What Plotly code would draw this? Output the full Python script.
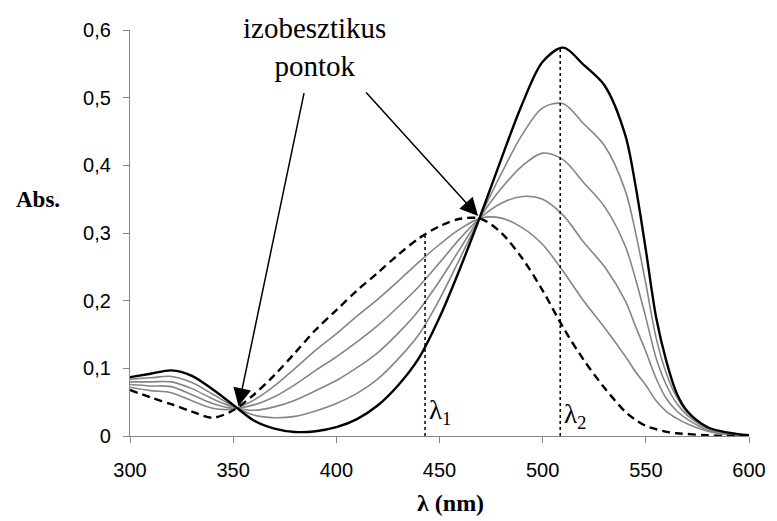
import plotly.graph_objects as go

# wavelengths (nm)
wl = [300, 310, 320, 330, 340, 350, 360, 370, 380, 390, 400, 410, 420, 430, 440, 450,
      460, 470, 480, 490, 500, 510, 520, 530, 540, 545, 550, 555, 560, 565, 570, 580, 590, 600]

# final spectrum (solid black)
abs_final = [0.087, 0.092, 0.097, 0.089, 0.069, 0.046, 0.023, 0.011, 0.006, 0.007, 0.013, 0.025,
             0.045, 0.075, 0.115, 0.175, 0.248, 0.327, 0.410, 0.490, 0.553, 0.574, 0.548, 0.518,
             0.445, 0.370, 0.275, 0.175, 0.110, 0.063, 0.037, 0.013, 0.005, 0.001]

# initial spectrum (dashed black)
abs_initial = [0.068, 0.057, 0.047, 0.036, 0.027, 0.038, 0.061, 0.090, 0.123, 0.157, 0.186, 0.215,
               0.241, 0.268, 0.292, 0.310, 0.321, 0.321, 0.300, 0.263, 0.215, 0.160, 0.112, 0.071,
               0.036, 0.024, 0.015, 0.010, 0.006, 0.004, 0.003, 0.001, 0.000, 0.000]

# intermediate spectra (grey), from nearest-to-final to nearest-to-initial
abs_g1 = [0.084, 0.086, 0.088, 0.079, 0.062, 0.044, 0.031, 0.027, 0.029, 0.037, 0.048, 0.063,
          0.084, 0.114, 0.150, 0.202, 0.263, 0.326, 0.388, 0.445, 0.485, 0.491, 0.461, 0.429,
          0.363, 0.301, 0.225, 0.145, 0.092, 0.057, 0.035, 0.012, 0.004, 0.001]
abs_g2 = [0.080, 0.080, 0.080, 0.070, 0.055, 0.043, 0.038, 0.043, 0.053, 0.067, 0.082, 0.101,
          0.123, 0.152, 0.186, 0.229, 0.277, 0.325, 0.366, 0.399, 0.418, 0.408, 0.374, 0.339,
          0.281, 0.232, 0.175, 0.115, 0.075, 0.048, 0.031, 0.011, 0.003, 0.001]
abs_g3 = [0.076, 0.074, 0.073, 0.061, 0.048, 0.041, 0.046, 0.058, 0.076, 0.097, 0.117, 0.139,
          0.163, 0.191, 0.221, 0.256, 0.292, 0.323, 0.344, 0.354, 0.350, 0.326, 0.286, 0.250,
          0.200, 0.162, 0.125, 0.085, 0.055, 0.037, 0.025, 0.009, 0.002, 0.000]
abs_g4 = [0.072, 0.067, 0.064, 0.052, 0.041, 0.040, 0.053, 0.074, 0.100, 0.127, 0.151, 0.177,
          0.202, 0.229, 0.257, 0.283, 0.306, 0.322, 0.322, 0.308, 0.283, 0.243, 0.199, 0.160,
          0.118, 0.095, 0.075, 0.052, 0.036, 0.026, 0.018, 0.007, 0.002, 0.000]

# marked wavelengths and heights of their dotted markers
lambda_x = [443, 508.5]
lambda_top = [0.297, 0.575]
lambda_labels = ["λ<sub>1</sub>", "λ<sub>2</sub>"]

x_ticks = [300, 350, 400, 450, 500, 550, 600]
y_ticks = [0, 0.1, 0.2, 0.3, 0.4, 0.5, 0.6]
y_tick_text = ["0", "0,1", "0,2", "0,3", "0,4", "0,5", "0,6"]

fig = go.Figure()
for g in [abs_g1, abs_g2, abs_g3, abs_g4]:
    fig.add_trace(go.Scatter(x=wl, y=g, mode="lines",
                             line=dict(color="#858585", width=1.6, shape="spline", smoothing=0.9)))
fig.add_trace(go.Scatter(x=wl, y=abs_initial, mode="lines",
                         line=dict(color="black", width=2.4, dash="8px,5px", shape="spline", smoothing=0.9)))
fig.add_trace(go.Scatter(x=wl, y=abs_final, mode="lines",
                         line=dict(color="black", width=2.4, shape="spline", smoothing=0.9)))
for lx, lt in zip(lambda_x, lambda_top):
    fig.add_trace(go.Scatter(x=[lx, lx], y=[0, lt], mode="lines",
                             line=dict(color="black", width=1.5, dash="dot")))

serif = "Liberation Serif"
# page offset (body margin) and figure geometry
OFF = 8
W, H = 769, 513
L, R, T, B = 122, 19.3, 11.3, 85.3
pw, ph = W - L - R, H - T - B


def px(x, y):
    return (x - OFF - L) / pw, (H - B - (y - OFF)) / ph


annotations = []
for text, (x, y), size in [("izobesztikus<br>pontok", (317, 37), 29),
                           ("<b>Abs.</b>", (37, 193), 23),
                           ("<b>λ (nm)</b>", (455, 504), 24)]:
    xp, yp = px(x, y)
    annotations.append(dict(text=text, x=xp, y=yp, xref="paper", yref="paper", showarrow=False,
                            xanchor="center", yanchor="middle", align="center",
                            font=dict(family=serif, size=size, color="black")))

# arrows pointing to the isosbestic points
arrows = [((352.6, 0.044), (384.5, 0.509)), ((468.7, 0.325), (413.8, 0.510))]
for (tx, ty), (sx, sy) in arrows:
    annotations.append(dict(x=tx, y=ty, ax=sx, ay=sy, xref="x", yref="y", axref="x", ayref="y",
                            text="", showarrow=True, arrowhead=2, arrowsize=2.4, arrowwidth=1.5,
                            arrowcolor="black", standoff=0))
for lx, lab, dy in zip(lambda_x, lambda_labels, [0.035, 0.03]):
    annotations.append(dict(x=lx + 0.8, y=dy, xref="x", yref="y", text=lab, showarrow=False,
                            xanchor="left", yanchor="middle",
                            font=dict(family=serif, size=27, color="black")))

fig.update_layout(
    width=W, height=H,
    margin=dict(l=L, r=R, t=T, b=B),
    paper_bgcolor="white", plot_bgcolor="white",
    showlegend=False,
    annotations=annotations,
    font=dict(family="Liberation Sans, Arial, sans-serif", size=20, color="black"),
)
fig.update_xaxes(range=[300, 600], tickvals=x_ticks, showgrid=False, zeroline=False,
                 showline=True, linecolor="#868686", linewidth=1.2,
                 ticks="outside", ticklen=6, tickcolor="#868686", tickwidth=1.2,
                 ticklabelstandoff=10)
fig.update_yaxes(range=[0, 0.6], tickvals=y_ticks, ticktext=y_tick_text, showgrid=False,
                 zeroline=False, showline=True, linecolor="#868686", linewidth=1.2,
                 ticks="outside", ticklen=6, tickcolor="#868686", tickwidth=1.2,
                 ticklabelstandoff=8)

fig.write_html("out.html")
